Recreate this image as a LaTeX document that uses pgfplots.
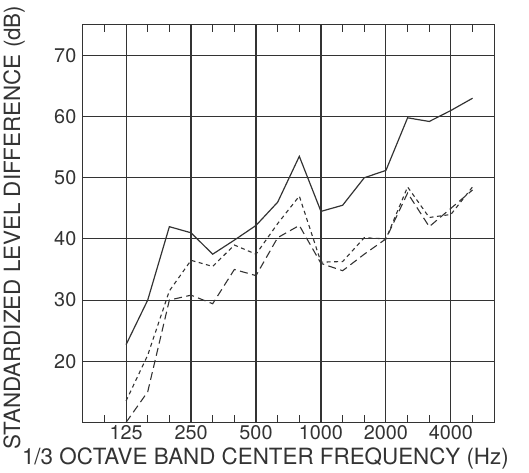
\documentclass[border=0pt]{standalone}
\usepackage{pgfplots}
\pgfplotsset{compat=1.18}
\usepackage{fontspec}
\setmainfont{TeX Gyre Heros}
\definecolor{ink}{gray}{0.2}

% 1/3 octave bands, index 0 = 125 Hz
\begin{document}
\begin{tikzpicture}
\begin{axis}[
  scale only axis,
  width=414bp, height=400bp,
  xmin=-2, xmax=17,
  ymin=10, ymax=75,
  xtick={0,3,6,9,12,15},
  xticklabels={125,250,500,1000,2000,4000},
  minor xtick={-1,1,2,4,5,7,8,10,11,13,14,16},
  ytick={20,30,40,50,60,70},
  yticklabels={20,30,40,50,60,70},
  tick pos=both,
  tick align=inside,
  major tick length=0pt,
  minor tick length=7bp,
  minor tick style={line width=1.1bp, ink},
  xmajorgrids, ymajorgrids,
  major grid style={line width=1.1bp, ink},
  axis line style={line width=1.2bp, ink},
  ticklabel style={font=\fontsize{20}{22}\selectfont, ink},
  yticklabel style={xshift=-3bp},
  xlabel={1/3 OCTAVE BAND CENTER FREQUENCY (Hz)},
  ylabel={STANDARDIZED LEVEL DIFFERENCE (dB)},
  label style={font=\fontsize{22.6}{25}\selectfont, ink},
  xlabel style={at={(axis description cs:0.444,-0.105)}, anchor=base},
  ylabel style={at={(axis description cs:-0.167,0.49)}, anchor=center},
]
\addplot[ink, line width=1.2bp] coordinates {
  (0,22.7)(1,30)(2,42)(3,41)(4,37.5)(5,39.8)(6,42.2)(7,46)(8,53.5)
  (9,44.5)(10,45.5)(11,50)(12,51.2)(13,59.8)(14,59.2)(15,61)(16,63)};
\addplot[ink, line width=1.1bp, dash pattern=on 4bp off 3.5bp] coordinates {
  (0,13.5)(1,21)(2,31.5)(3,36.5)(4,35.5)(5,39)(6,37.5)(7,42.5)(8,47)
  (9,36.2)(10,36.3)(11,40.2)(12,40)(13,48.5)(14,43.5)(15,44)(16,48.5)};
\addplot[ink, line width=1.1bp, dash pattern=on 8bp off 4.5bp] coordinates {
  (0,10)(1,15)(2,30)(3,30.8)(4,29.4)(5,35)(6,34)(7,40.2)(8,42.2)
  (9,36)(10,34.8)(11,37.5)(12,40)(13,47.5)(14,42)(15,45)(16,48)};
\end{axis}
\path ([xshift=-80bp,yshift=-50bp]current axis.south west)
  rectangle ([xshift=35bp,yshift=25bp]current axis.north east);
\end{tikzpicture}
\end{document}
